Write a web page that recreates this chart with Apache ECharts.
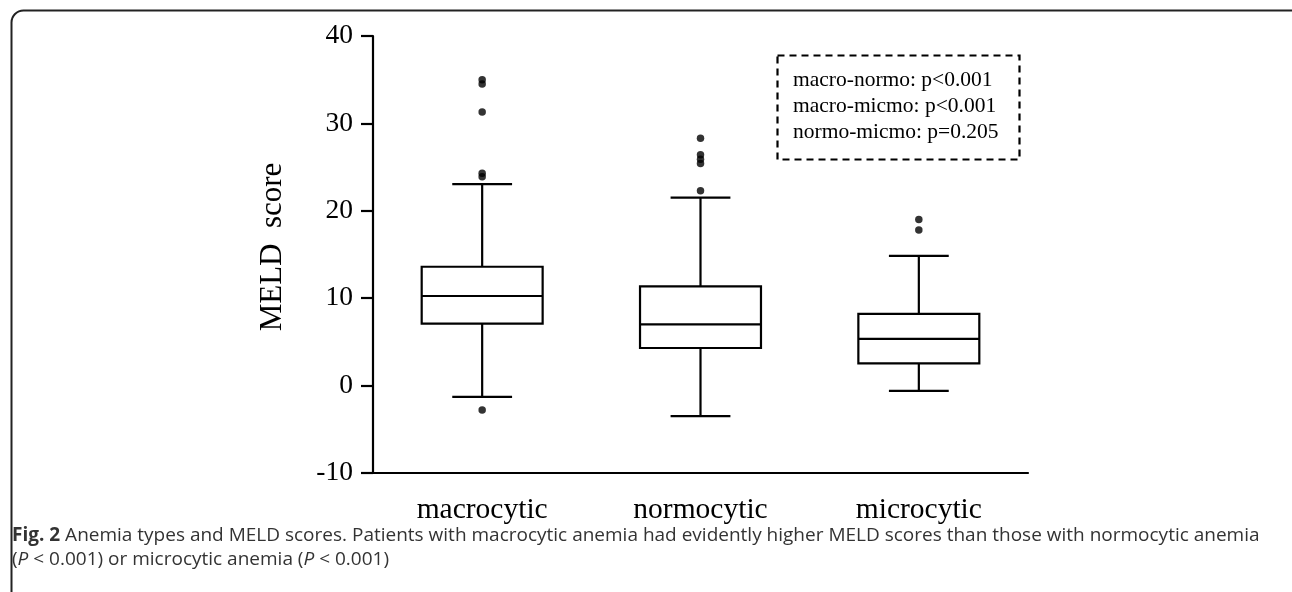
<!DOCTYPE html>
<html>
<head>
<meta charset="utf-8">
<script src="https://cdn.jsdelivr.net/npm/echarts@6/dist/echarts.min.js"></script>
<style>html,body{margin:0;padding:0;background:#fff}#c{width:1292px;height:592px}</style>
</head>
<body>
<div id="c"></div>
<script>
const categories = ['macrocytic', 'normocytic', 'microcytic'];
// [lower whisker, Q1, median, Q3, upper whisker]
const boxValues = [
  [-1.3, 7.1, 10.25, 13.6, 23.05],
  [-3.5, 4.3, 7.0, 11.35, 21.5],
  [-0.6, 2.55, 5.35, 8.2, 14.85]
];
// outliers: [categoryIndex, value]
const outliers = [
  [0, 35.0], [0, 34.5], [0, 31.3], [0, 24.3], [0, 23.9], [0, -2.8],
  [1, 28.3], [1, 26.4], [1, 25.9], [1, 25.4], [1, 22.3],
  [2, 19.0], [2, 17.8]
];
const yTicks = [-10, 0, 10, 20, 30, 40];
const yTitle = 'MELD  score';
const statLines = ['macro-normo: p<0.001', 'macro-micmo: p<0.001', 'normo-micmo: p=0.205'];

const chart = echarts.init(document.getElementById('c'));
const serif = '"Liberation Serif", "DejaVu Serif", serif';

const boxData = boxValues.map((v, i) => [i].concat(v));

function renderBox(params, api) {
  const i = api.value(0);
  const lo = api.coord([i, api.value(1)]);
  const q1 = api.coord([i, api.value(2)]);
  const med = api.coord([i, api.value(3)]);
  const q3 = api.coord([i, api.value(4)]);
  const hi = api.coord([i, api.value(5)]);
  const band = api.size([1, 0])[0];
  const hw = band * 0.277;
  const cw = band * 0.137;
  const x = lo[0];
  const st = { stroke: '#000', lineWidth: 2.2, fill: null };
  return {
    type: 'group',
    children: [
      { type: 'line', shape: { x1: x, y1: hi[1], x2: x, y2: q3[1] }, style: st },
      { type: 'line', shape: { x1: x, y1: q1[1], x2: x, y2: lo[1] }, style: st },
      { type: 'line', shape: { x1: x - cw, y1: hi[1], x2: x + cw, y2: hi[1] }, style: st },
      { type: 'line', shape: { x1: x - cw, y1: lo[1], x2: x + cw, y2: lo[1] }, style: st },
      { type: 'rect', shape: { x: x - hw, y: q3[1], width: hw * 2, height: q1[1] - q3[1] }, style: { stroke: '#000', lineWidth: 2.2, fill: '#fff' } },
      { type: 'line', shape: { x1: x - hw, y1: med[1], x2: x + hw, y2: med[1] }, style: st }
    ]
  };
}

chart.setOption({
  animation: false,
  backgroundColor: '#fff',
  grid: { left: 373, right: 264, top: 36, bottom: 119, containLabel: false },
  xAxis: {
    type: 'category',
    data: categories,
    boundaryGap: true,
    axisLine: { onZero: false, lineStyle: { color: '#000', width: 2.2 } },
    axisTick: { alignWithLabel: true, length: 12, lineStyle: { color: '#000', width: 2.2 } },
    axisLabel: { color: '#000', fontFamily: serif, fontSize: 29.5, margin: 22 },
    splitLine: { show: false }
  },
  yAxis: {
    type: 'value',
    min: yTicks[0],
    max: yTicks[yTicks.length - 1],
    interval: 10,
    axisLine: { show: true, lineStyle: { color: '#000', width: 2.2 } },
    axisTick: { show: true, length: 12, lineStyle: { color: '#000', width: 2.2 } },
    axisLabel: { color: '#000', fontFamily: serif, fontSize: 27.5, margin: 20 },
    splitLine: { show: false }
  },
  series: [
    {
      type: 'custom',
      data: boxData,
      encode: { x: 0, y: [1, 2, 3, 4, 5] },
      renderItem: renderBox,
      z: 2
    },
    {
      type: 'scatter',
      data: outliers,
      symbol: 'circle',
      symbolSize: 7.5,
      itemStyle: { color: '#000' },
      z: 3
    }
  ],
  graphic: [
    {
      type: 'rect',
      left: 9, top: 8,
      shape: { width: 1300, height: 600, r: 12 },
      style: { fill: null, stroke: '#222', lineWidth: 2 },
      silent: true
    },
    {
      type: 'text',
      x: 273, y: 247,
      rotation: Math.PI / 2,
      style: {
        text: yTitle, fontFamily: serif, fontSize: 31, fill: '#000',
        align: 'center', verticalAlign: 'middle'
      }
    },
    {
      type: 'rect',
      left: 775, top: 53,
      shape: { width: 242, height: 104 },
      style: { fill: null, stroke: '#000', lineWidth: 2.2, lineDash: [7, 5] }
    },
    {
      type: 'text',
      left: 793, top: 67,
      style: {
        text: statLines.join('\n'),
        fontFamily: serif, fontSize: 21.5, lineHeight: 26, fill: '#000'
      }
    },
    {
      type: 'text',
      left: 12, top: 524,
      style: {
        text: '{b|Fig. 2} Anemia types and MELD scores. Patients with macrocytic anemia had evidently higher MELD scores than those with normocytic anemia\n({i|P} < 0.001) or microcytic anemia ({i|P} < 0.001)',
        fontFamily: '"Open Sans", sans-serif', fontSize: 19, lineHeight: 24, fill: '#333',
        rich: {
          b: { fontWeight: 'bold', fontFamily: '"Open Sans", sans-serif', fontSize: 19, fill: '#333' },
          i: { fontStyle: 'italic', fontFamily: '"Open Sans", sans-serif', fontSize: 19, fill: '#333' }
        }
      }
    }
  ]
});
</script>
</body>
</html>
